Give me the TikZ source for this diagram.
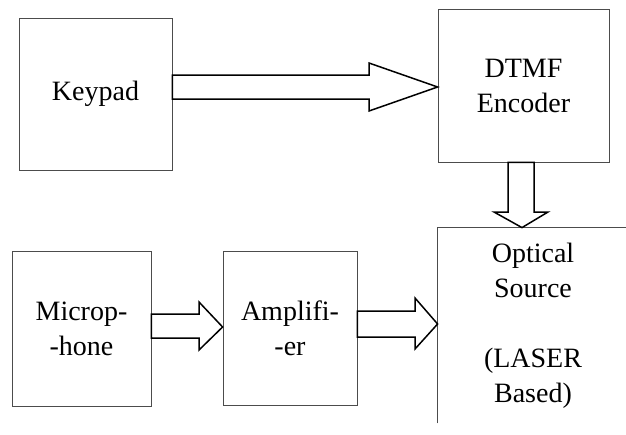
\documentclass[tikz,border=0pt]{standalone}
\usepackage{fontspec}
\setmainfont{Liberation Serif}

\tikzset{
  blockbox/.style={draw=black!70, line width=0.8pt, inner sep=0pt, align=center,
    font=\fontsize{28}{35}\selectfont},
  fatarrow/.style={draw=black, line width=1.5pt, line join=miter}
}

\begin{document}
\begin{tikzpicture}[x=1pt,y=-1pt]
        \useasboundingbox (0,0) rectangle (626,434);

        \node [blockbox, minimum width=153pt, minimum height=152pt] (keypad) at (95.5, 94) {Keypad};
        \node [blockbox, minimum width=171pt, minimum height=153pt] (dtmf) at (523.5, 85.5) {DTMF\\Encoder};
        \node [blockbox, minimum width=139pt, minimum height=155pt] (mic) at (81.5, 328.5) {Microp-\\-hone};
        \node [blockbox, minimum width=134pt, minimum height=154pt] (amp) at (290, 328) {Amplifi-\\-er};
        \node [blockbox, draw=none, minimum width=190pt, minimum height=195pt] (optical) at (533, 325.5)
            {Optical\\Source\\[35pt](LASER\\Based)};

        % the source box runs off the page on the right
        \draw [black!70, line width=0.8pt] (optical.south west) -- (optical.north west) -- (optical.north east);

        \draw [fatarrow] (keypad.east |- 0,75) -- (369,75) -- (369,63) -- (dtmf.west |- 0,87)
            -- (369,111) -- (369,99) -- (keypad.east |- 0,99) -- cycle;
        \draw [fatarrow] (dtmf.south -| 508,0) -- (508,212) -- (494,212) -- (optical.north -| 522,0)
            -- (548,212) -- (534,212) -- (dtmf.south -| 534,0) -- cycle;
        \draw [fatarrow] (mic.east |- 0,314) -- (199,314) -- (199,302) -- (amp.west |- 0,327)
            -- (199,350) -- (199,338) -- (mic.east |- 0,338) -- cycle;
        \draw [fatarrow] (amp.east |- 0,311) -- (415,311) -- (415,298) -- (optical.west |- 0,324)
            -- (415,349) -- (415,337) -- (amp.east |- 0,337) -- cycle;
    \end{tikzpicture}
\end{document}
